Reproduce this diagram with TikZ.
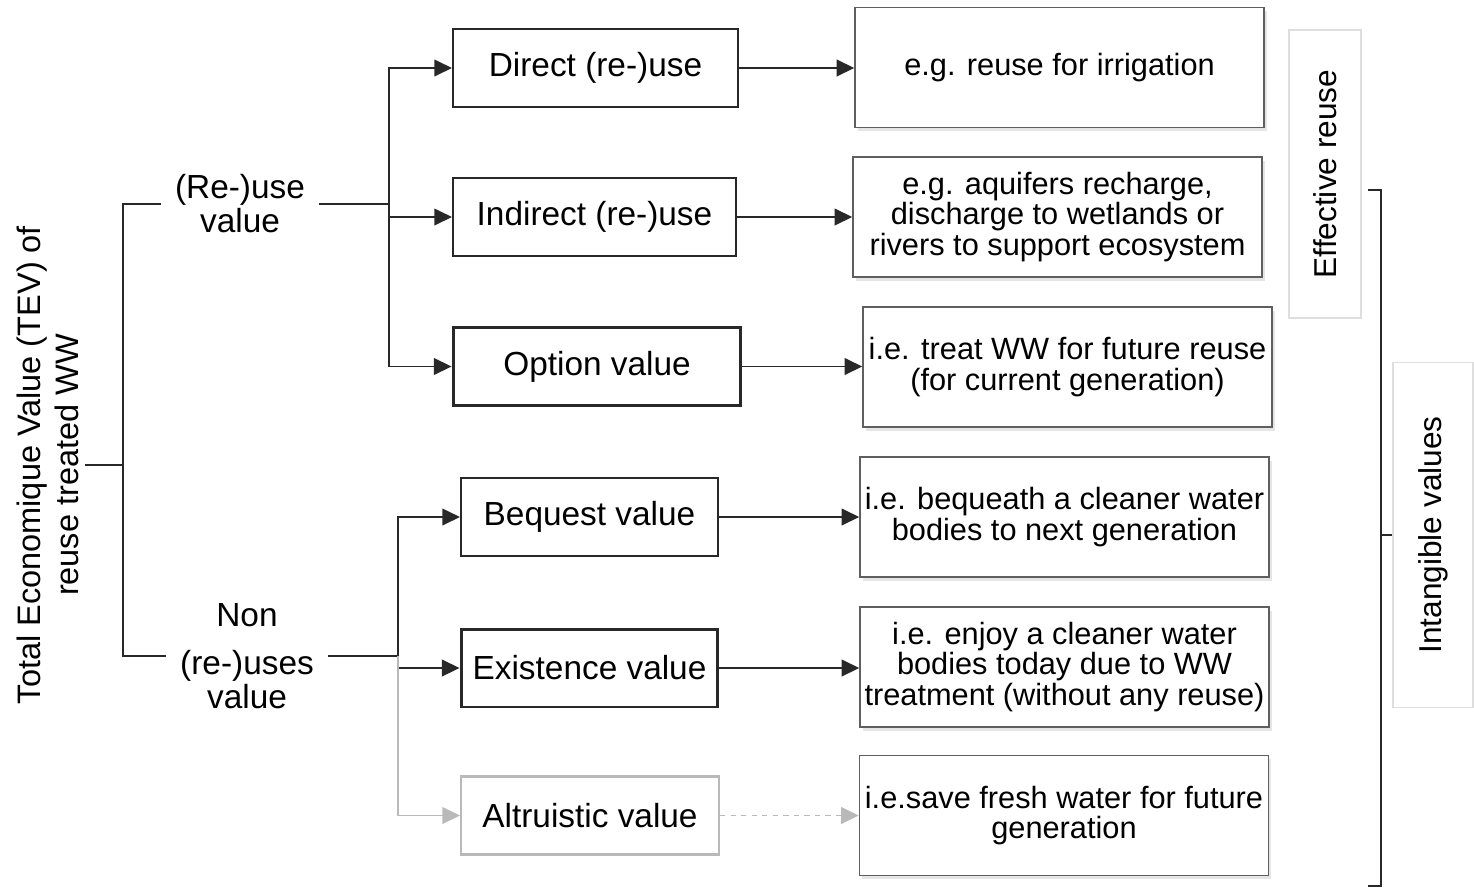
\documentclass[tikz,border=0pt]{standalone}
\usepackage{fontspec}
\setmainfont{Liberation Sans}
\usetikzlibrary{arrows.meta, positioning, shadows}

\definecolor{linegray}{RGB}{40,40,40}
\definecolor{boxgray}{RGB}{95,95,95}
\definecolor{palegray}{RGB}{185,185,185}
\definecolor{framegray}{RGB}{222,222,222}

\begin{document}
\begin{tikzpicture}[x=0.02cm, y=-0.02cm,
  midbox/.style={draw=linegray, line width=1.2pt, minimum height=1.56cm, inner sep=2pt, font=\fontsize{19}{19.3}\selectfont},
  examplebox/.style={draw=boxgray, line width=0.9pt, fill=white, minimum width=8.18cm, minimum height=2.4cm, align=center, inner sep=1pt, font=\fontsize{17.5}{17.6}\selectfont, drop shadow={shadow xshift=1.5pt, shadow yshift=-2pt, fill=gray!40}},
  branchlabel/.style={align=center, inner xsep=8pt, font=\fontsize{19}{19.3}\selectfont},
  tag/.style={draw=framegray, line width=0.8pt, rotate=90, font=\fontsize{18}{18}\selectfont},
  tip/.style={-{Triangle[length=10pt, width=9.5pt]}},
  link/.style={draw=linegray, line width=0.8pt}
]
  \useasboundingbox (0,0) rectangle (1474,890);

  % Root of the tree
  \node[rotate=90, align=center, font=\fontsize{18.5}{21.5}\selectfont] (tev) at (48,465)
    {Total Economique Value (TEV) of\\reuse treated WW};
  \coordinate (j0) at (123,465);

  % Two branches
  \node[branchlabel] (reuse) at (240,204) {(Re-)use\\value};
  \node[branchlabel] (nonuse) at (247,656) {Non\\[8pt](re-)uses\\value};
  \coordinate (j1) at (389,204);
  \coordinate (j2) at (398,656);

  % Value types
  \node[midbox, minimum width=5.7cm] (direct) at (595.5,68) {Direct (re-)use};
  \node[midbox, minimum width=5.66cm] (indirect) at (594.5,217) {Indirect (re-)use};
  \node[midbox, minimum width=5.76cm, line width=1.7pt] (option) at (597,366.5) {Option value};
  \node[midbox, minimum width=5.14cm] (bequest) at (589.5,517) {Bequest value};
  \node[midbox, minimum width=5.14cm, line width=1.7pt] (existence) at (589.5,668) {Existence value};
  \node[midbox, minimum width=5.16cm, draw=palegray] (altruistic) at (590,815.5) {Altruistic value};

  % Examples
  \node[examplebox] (irrigation) at (1059.5,67.5) {e.g. reuse for irrigation};
  \node[examplebox] (aquifers) at (1057.5,217) {e.g. aquifers recharge,\\discharge to wetlands or\\rivers to support ecosystem};
  \node[examplebox] (future) at (1067.5,367) {i.e. treat WW for future reuse\\(for current generation)};
  \node[examplebox] (bequeath) at (1064.5,517) {i.e. bequeath a cleaner water\\bodies to next generation};
  \node[examplebox] (enjoy) at (1064.5,667) {i.e. enjoy a cleaner water\\bodies today due to WW\\treatment (without any reuse)};
  \node[examplebox] (fresh) at (1064,815.5) {i.e.save fresh water for future\\generation};

  % Side labels
  \node[tag, minimum width=5.76cm, minimum height=1.44cm] (effective) at (1325,174) {Effective reuse};
  \node[tag, minimum width=6.9cm, minimum height=1.6cm] (intangible) at (1433,535) {Intangible values};
  \coordinate (bmid) at (1381,535);

  % Tree connectors
  \draw[link] (tev.south) -- (j0);
  \draw[link] (j0) |- (reuse.west);
  \draw[link] (j0) |- (nonuse.west);
  \draw[link] (reuse.east) -- (j1);
  \draw[link] (nonuse.east) -- (j2);
  \draw[link, tip] (j1) |- (direct.west);
  \draw[link, tip] (j1) |- (indirect.west);
  \draw[link, tip] (j1) |- (option.west);
  \draw[link, tip] (j2) |- (bequest.west);
  \draw[link, tip] (j2) |- (existence.west);
  \draw[link, tip, draw=palegray] (j2) |- (altruistic.west);

  % Value -> example
  \draw[link, tip] (direct.east) -- (direct.east -| irrigation.west);
  \draw[link, tip] (indirect.east) -- (indirect.east -| aquifers.west);
  \draw[link, tip] (option.east) -- (option.east -| future.west);
  \draw[link, tip] (bequest.east) -- (bequest.east -| bequeath.west);
  \draw[link, tip] (existence.east) -- (existence.east -| enjoy.west);
  \draw[link, tip, draw=palegray, dashed] (altruistic.east) -- (altruistic.east -| fresh.west);

  % Bracket for intangible values
  \draw[draw=linegray, line width=1.2pt] (1368,190) -- (1381,190) -- (1381,886) -- (1368,886);
  \draw[draw=linegray, line width=1.2pt] (bmid) -- (bmid -| intangible.north);
\end{tikzpicture}
\end{document}
